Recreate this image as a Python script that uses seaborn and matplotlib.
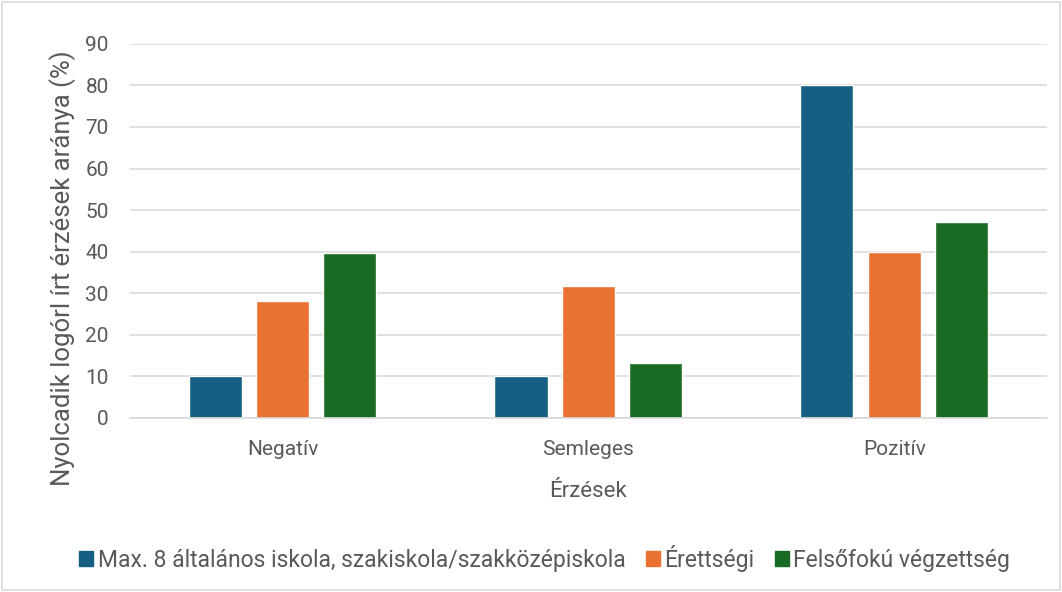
import pandas as pd
import seaborn as sns
import matplotlib.pyplot as plt
from matplotlib.patches import Rectangle

# Adatok
erzesek = ['Negatív', 'Semleges', 'Pozitív']
csoportok = ['Max. 8 általános iskola, szakiskola/szakközépiskola', 'Érettségi', 'Felsőfokú végzettség']
max8 = [10, 10, 80]
erettsegi = [28.2, 31.8, 40]
felsofoku = [39.6, 13.2, 47.2]
szinek = ['#156082', '#E97132', '#196B24']

df = pd.DataFrame({
    'Érzések': erzesek * 3,
    'Csoport': [csoportok[0]] * 3 + [csoportok[1]] * 3 + [csoportok[2]] * 3,
    'Arány': max8 + erettsegi + felsofoku,
})

sns.set_theme(style='white')
plt.rcParams['font.family'] = ['Roboto', 'DejaVu Sans']

fig = plt.figure(figsize=(10.62, 5.92), dpi=100)
ax = fig.add_axes([0.122, 0.294, 0.864, 0.632])

sns.barplot(data=df, x='Érzések', y='Arány', hue='Csoport', palette=szinek,
            width=0.66, gap=0.21, ax=ax, saturation=1, legend=False)

ax.set_ylim(0, 90)
ax.set_yticks(range(0, 91, 10))
ax.yaxis.grid(True, color='#D9D9D9', linewidth=1.2)
ax.set_axisbelow(True)
for s in ['top', 'right', 'left']:
    ax.spines[s].set_visible(False)
ax.spines['bottom'].set_color('#D9D9D9')
ax.spines['bottom'].set_linewidth(1.2)
ax.tick_params(axis='both', length=0, labelsize=15, colors='#595959')
ax.tick_params(axis='x', pad=16)
ax.tick_params(axis='y', pad=15)
ax.set_ylabel('Nyolcadik logórl írt érzések aránya (%)', fontsize=18.5, color='#595959')
ax.yaxis.set_label_coords(-0.058, 0.40)
ax.set_xlabel('Érzések', fontsize=16, color='#595959', labelpad=16)

# Jelmagyarázat
kezelok = [Rectangle((0, 0), 1, 1, color=c) for c in szinek]
fig.legend(kezelok, csoportok, loc='center', bbox_to_anchor=(0.513, 0.057), ncol=3,
           frameon=False, handlelength=0.6, handleheight=0.6,
           handletextpad=0.2, columnspacing=0.9, labelcolor='#595959',
           prop={'family': ['Roboto', 'DejaVu Sans'], 'size': 16.5})

# Keret
fig.patches.append(Rectangle((0.002, 0.003), 0.996, 0.994, transform=fig.transFigure,
                             fill=False, edgecolor='#D9D9D9', linewidth=1.2))

plt.savefig('out.png', dpi=100)
